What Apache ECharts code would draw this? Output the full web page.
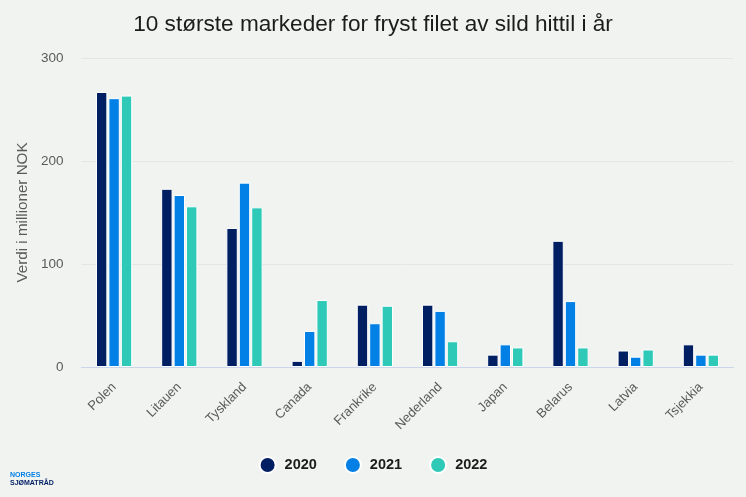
<!DOCTYPE html>
<html><head><meta charset="utf-8">
<style>html,body{margin:0;padding:0;background:#f1f3f1}#c{width:746px;height:497px}</style>
<script src="https://cdn.jsdelivr.net/npm/echarts@6/dist/echarts.min.js"></script></head>
<body><div id="c"></div>
<script>
const titleText = '10 største markeder for fryst filet av sild hittil i år';
const yAxisTitle = 'Verdi i millioner NOK';
const categories = ['Polen','Litauen','Tyskland','Canada','Frankrike','Nederland','Japan','Belarus','Latvia','Tsjekkia'];
const v2020 = [267,173,135,6,60.5,60.5,12,122.5,16,22];
const v2021 = [261,167,179,35,42.5,54.5,22,64,10,12];
const v2022 = [263.5,156,155,65,59.5,25,19,19,17,12];
const colors = ['#001e62','#0380e5','#2ec9b7'];
const names = ['2020','2021','2022'];
const font = '"Liberation Sans", Arial, sans-serif';
const chart = echarts.init(document.getElementById('c'), null, {renderer:'canvas'});
chart.setOption({
  animation:false,
  backgroundColor:'#f1f3f1',
  title:{text:titleText,left:'center',top:8,textStyle:{fontFamily:font,fontSize:22.6,fontWeight:'normal',color:'#1c1c1c'}},
  grid:{left:81.5,right:12.5,top:58,bottom:130},
  legend:{
    top:451,left:'center',icon:'circle',itemWidth:16,itemHeight:16,itemGap:27,
    textStyle:{fontFamily:font,fontSize:14.5,fontWeight:'bold',color:'#1c1c1c',padding:[0,0,0,4]},
    data:names
  },
  xAxis:{
    type:'category',data:categories,
    axisLine:{lineStyle:{color:'#ccd6eb',width:1}},axisTick:{show:false},
    axisLabel:{rotate:45,margin:18,interval:0,fontFamily:font,fontSize:13,color:'#5a5a5a'}
  },
  yAxis:{
    type:'value',min:0,max:300,interval:100,
    name:yAxisTitle,nameLocation:'middle',nameGap:43,
    nameTextStyle:{fontFamily:font,fontSize:15.2,color:'#5a5a5a'},
    axisLabel:{margin:18,fontFamily:font,fontSize:13.5,color:'#5a5a5a'},
    splitLine:{lineStyle:{color:'#e4e6e4',width:1}},
    axisLine:{show:false},axisTick:{show:false}
  },
  series:[v2020,v2021,v2022].map((d,i)=>({
    name:names[i],type:'bar',data:d,barWidth:11.4,barGap:'9%',
    itemStyle:{color:colors[i],borderColor:'#ffffff',borderWidth:1}
  })),
  graphic:[
    {type:'text',left:10,top:472,style:{text:'NORGES',fontFamily:font,fontSize:7,fontWeight:'bold',fill:'#0380e5'}},
    {type:'text',left:10,top:479.5,style:{text:'SJØMATRÅD',fontFamily:font,fontSize:7,fontWeight:'bold',fill:'#001e62'}}
  ]
});
</script></body></html>
